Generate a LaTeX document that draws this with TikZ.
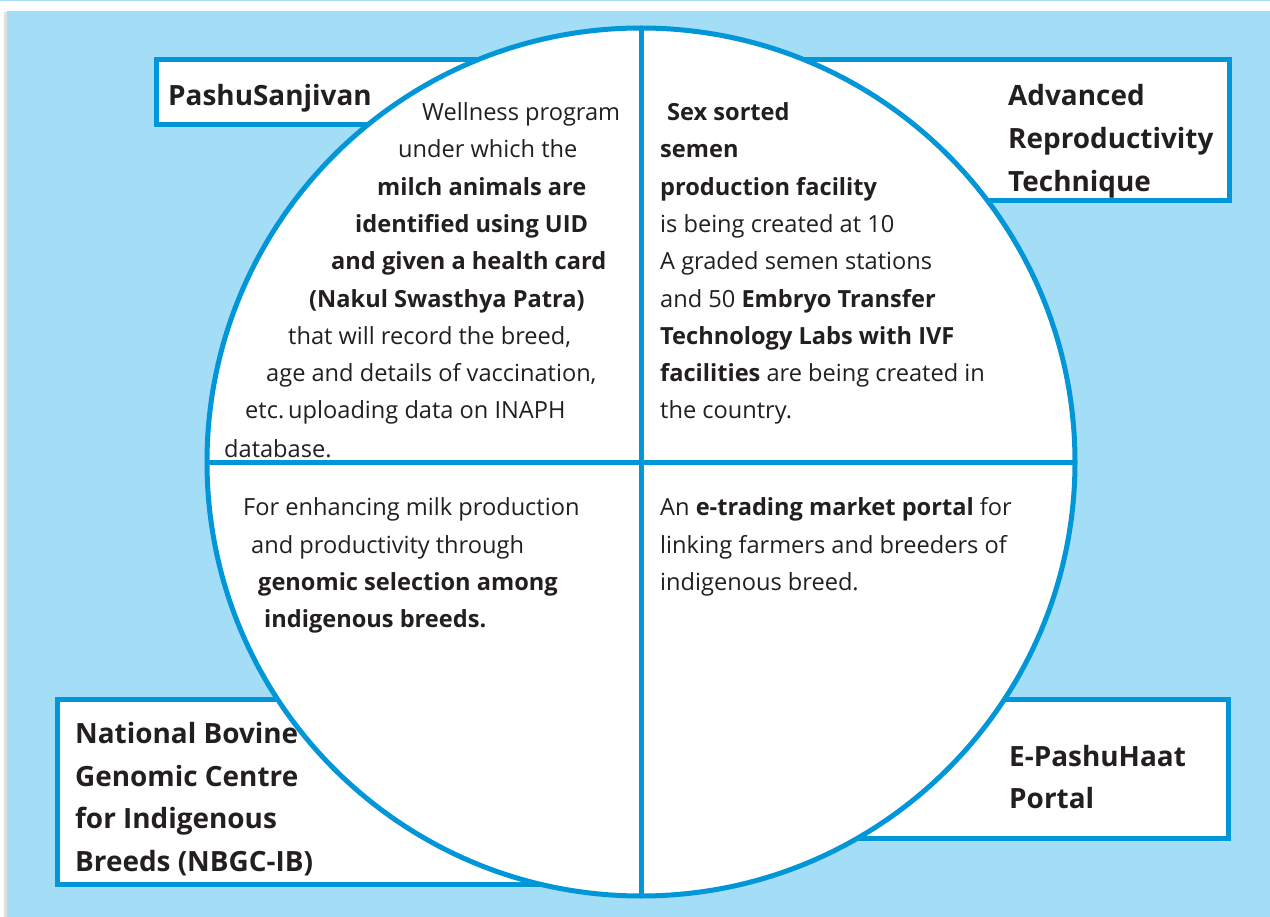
\documentclass[tikz,border=0pt]{standalone}
\usepackage{fontspec}
\setmainfont{Open Sans}
\definecolor{bgblue}{HTML}{A4DDF6}
\definecolor{lineblue}{HTML}{0096D8}
\definecolor{txt}{HTML}{231F20}
\tikzset{
  body/.style={anchor=base west, inner sep=0pt, text=txt, font=\fontsize{23.6}{26}\selectfont},
  head/.style={anchor=base west, inner sep=0pt, text=txt, font=\bfseries\fontsize{27.9}{32}\selectfont},
  labelbox/.style={draw=lineblue, line width=5pt, fill=white},
  ring/.style={draw=lineblue, line width=5pt, fill=white},
  divider/.style={draw=lineblue, line width=5pt}
}
\begin{document}
\begin{tikzpicture}[x=1pt,y=-1pt]
\useasboundingbox (0,0) rectangle (1270,917);
\fill[white] (0,0) rectangle (1270,917);
\fill[bgblue] (0,0) rectangle (1270,1.5);
\fill[black!12] (4,12) rectangle (7,917);
\fill[bgblue] (7,11) rectangle (1270,917);
% label boxes
\draw[labelbox] (156.5,59.5) rectangle (540,124.5);
\draw[labelbox] (760,59.5) rectangle (1229.5,200.5);
\draw[labelbox] (57.5,699.5) rectangle (600,884.5);
\draw[labelbox] (800,699.5) rectangle (1228,838.5);
% circle
\coordinate (c) at (641,462);
\draw[ring] (c) circle [radius=434pt];
\coordinate (top) at (641,28);
\coordinate (bot) at (641,896);
\coordinate (lft) at (207,462);
\coordinate (rgt) at (1075,462);
\draw[divider] (top) -- (bot);
\draw[divider] (lft) -- (rgt);
% headings
\node[head] (h1) at (168,106) {PashuSanjivan};
\node[head] (h2a) at (1008,106) {Advanced};
\node[head] (h2b) at (1008,149) {Reproductivity};
\node[head] (h2c) at (1008,192) {Technique};
\node[head] (h3a) at (75,743) {National Bovine};
\node[head] (h3b) at (75,786) {Genomic Centre};
\node[head] (h3c) at (75,828) {for Indigenous};
\node[head] (h3d) at (75,871) {Breeds (NBGC-IB)};
\node[head] (h4a) at (1009,766) {E-PashuHaat};
\node[head] (h4b) at (1009,808) {Portal};
% top-left text
\node[body] (a1) at (422,121) {Wellness program};
\node[body] (a2) at (398,158) {under which the};
\node[body] (a3) at (377,196) {\bfseries milch animals are};
\node[body] (a4) at (355,233) {\bfseries identified using UID};
\node[body] (a5) at (331,270) {\bfseries and given a health card};
\node[body] (a6) at (309,308) {\bfseries (Nakul Swasthya Patra)};
\node[body] (a7) at (288,345) {that will record the breed,};
\node[body] (a8) at (266,382) {age and details of vaccination,};
\node[body] (a9) at (245,419) {etc.\,uploading data on INAPH};
\node[body] (a10) at (224,457) {database.};
% top-right text
\node[body] (b1) at (667,121) {\bfseries Sex sorted};
\node[body] (b2) at (660,158) {\bfseries semen};
\node[body] (b3) at (660,196) {\bfseries production facility};
\node[body] (b4) at (660,233) {is being created at 10};
\node[body] (b5) at (660,270) {A graded semen stations};
\node[body] (b6) at (660,308) {and 50 \textbf{Embryo Transfer}};
\node[body] (b7) at (660,345) {\bfseries Technology Labs with IVF};
\node[body] (b8) at (660,382) {\textbf{facilities} are being created in};
\node[body] (b9) at (660,419) {the country.};
% bottom-left text
\node[body] (c1) at (243,515) {For enhancing milk production};
\node[body] (c2) at (251,553) {and productivity through};
\node[body] (c3) at (258,590) {\bfseries genomic selection among};
\node[body] (c4) at (264,627) {\bfseries indigenous breeds.};
% bottom-right text
\node[body] (d1) at (660,515) {An \textbf{e-trading market portal} for};
\node[body] (d2) at (660,553) {linking farmers and breeders of};
\node[body] (d3) at (660,590) {indigenous breed.};
\end{tikzpicture}
\end{document}
